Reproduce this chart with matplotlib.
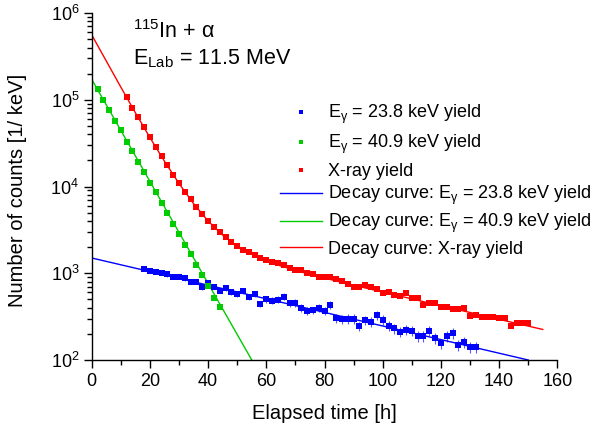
import numpy as np
import matplotlib
matplotlib.use("Agg")
import matplotlib.pyplot as plt
from matplotlib.lines import Line2D
from matplotlib.ticker import MultipleLocator, LogLocator, NullFormatter

plt.rcParams['font.family'] = ['Liberation Sans', 'DejaVu Sans']
plt.rcParams['mathtext.fontset'] = 'custom'
plt.rcParams['mathtext.rm'] = 'Liberation Sans'
plt.rcParams['mathtext.it'] = 'Liberation Sans:italic'
plt.rcParams['mathtext.bf'] = 'Liberation Sans:bold'

# measured yields (time in h, counts per keV)
blue_t = [18, 20, 22, 24, 26, 28, 30, 32, 34, 36, 38, 40, 42, 44, 46, 48, 50, 52, 54, 56,
          58, 60, 62, 64, 66, 68, 70, 72, 74, 76, 78, 80, 82, 84, 86, 88, 90, 92, 94, 96,
          98, 100, 102, 104, 106, 108, 110, 112, 114, 116, 118, 120, 122, 124, 126, 128, 130, 132]
blue_y = [1119, 1071, 1033, 1014, 972, 912, 912, 873, 800, 800, 689, 778, 700, 630, 670, 613, 577, 624, 537, 577,
          443, 505, 483, 495, 537, 451, 459, 400, 368, 374, 400, 370, 436, 303, 294, 299, 299, 247, 289, 276,
          330, 289, 247, 232, 212, 222, 218, 189, 189, 218, 178, 155, 189, 206, 149, 160, 140, 141]
blue_err = [0.05, 0.05, 0.05, 0.05, 0.06, 0.06, 0.06, 0.06, 0.06, 0.06, 0.07, 0.07, 0.07, 0.07, 0.07, 0.08, 0.08, 0.08, 0.08, 0.08,
            0.09, 0.09, 0.09, 0.09, 0.09, 0.10, 0.10, 0.10, 0.10, 0.10, 0.11, 0.11, 0.11, 0.11, 0.11, 0.12, 0.12, 0.12, 0.12, 0.12,
            0.12, 0.13, 0.13, 0.13, 0.13, 0.13, 0.13, 0.14, 0.14, 0.14, 0.14, 0.14, 0.14, 0.15, 0.15, 0.15, 0.15, 0.15]

green_t = [2, 4, 6, 8, 10, 12, 14, 16, 18, 20, 22, 24, 26, 28, 30, 32, 34, 36, 38, 40, 42, 44]
green_y = [132000, 99000, 76500, 57500, 44500, 33000, 25600, 19200, 14800, 11100, 8600,
           6400, 4950, 3700, 2870, 2140, 1660, 1240, 955, 715, 520, 411]
green_err = [0.02, 0.02, 0.02, 0.02, 0.02, 0.02, 0.02, 0.02, 0.02, 0.03, 0.03,
             0.03, 0.03, 0.03, 0.04, 0.04, 0.04, 0.05, 0.05, 0.05, 0.06, 0.06]

red_t = [12, 14, 16, 18, 20, 22, 24, 26, 28, 30, 32, 34, 36, 38, 40, 42, 44, 46, 48, 50,
         52, 54, 56, 58, 60, 62, 64, 66, 68, 70, 72, 74, 76, 78, 80, 82, 84, 86, 88, 90,
         92, 94, 96, 98, 100, 102, 104, 106, 108, 110, 112, 114, 116, 118, 120, 122, 124, 126, 128, 130,
         132, 134, 136, 138, 140, 142, 144, 146, 148, 150]
red_y = [108000, 80500, 62500, 48000, 36800, 28600, 22200, 17600, 13700, 10900, 8750, 7100, 5800, 4820, 4030, 3440, 2960, 2610, 2300, 2080,
         1870, 1740, 1620, 1510, 1430, 1360, 1300, 1240, 1160, 1090, 1100, 1020, 973, 912, 912, 898, 851, 820, 752, 700,
         700, 726, 690, 664, 590, 600, 565, 547, 587, 525, 514, 430, 451, 451, 412, 412, 391, 388, 401, 323,
         330, 316, 310, 310, 308, 303, 247, 265, 270, 265]
red_err = [0.02, 0.02, 0.02, 0.02, 0.02, 0.02, 0.02, 0.02, 0.02, 0.02, 0.02, 0.02, 0.02, 0.02, 0.02, 0.02, 0.02, 0.02, 0.02, 0.02,
           0.02, 0.02, 0.02, 0.02, 0.02, 0.03, 0.03, 0.03, 0.03, 0.03, 0.03, 0.03, 0.03, 0.03, 0.03, 0.03, 0.03, 0.03, 0.03, 0.03,
           0.03, 0.03, 0.03, 0.03, 0.04, 0.04, 0.04, 0.04, 0.04, 0.04, 0.04, 0.04, 0.04, 0.04, 0.04, 0.04, 0.04, 0.04, 0.04, 0.04,
           0.04, 0.04, 0.04, 0.04, 0.04, 0.04, 0.04, 0.04, 0.04, 0.04]

# decay curves
blue_fit_t = [0, 150]
blue_fit_y = [1500, 100]
green_fit_t = [0, 55]
green_fit_y = [172000, 100]
red_fit_t = [0, 5, 10, 15, 20, 25, 30, 35, 40, 45, 50, 55, 60, 65, 70, 75, 80, 85, 90, 95,
             100, 105, 110, 115, 120, 125, 130, 135, 140, 145, 150, 155]
red_fit_y = [560000, 280000, 140000, 71000, 36700, 19570, 10840, 6350, 4000, 2754, 2060, 1652, 1394, 1212, 1079, 971, 880, 801, 728, 665,
             607, 555, 507, 462, 423, 386, 353, 323, 294, 269, 246, 225]

BLUE = '#0000ff'
GREEN = '#00cc00'
RED = '#ff0000'

fig = plt.figure(figsize=(5.92, 4.28), dpi=100)
ax = fig.add_axes([91.7 / 592, 1 - 360 / 428, 465.6 / 592, 347 / 428])

for t, y, e, c in [(blue_t, blue_y, blue_err, BLUE),
                   (green_t, green_y, green_err, GREEN),
                   (red_t, red_y, red_err, RED)]:
    y = np.array(y, dtype=float)
    bars = ax.errorbar(t, y, yerr=y * np.array(e), fmt='s', ms=3.8, mew=0, color=c,
                       ecolor=c, elinewidth=0.8, capsize=2, capthick=0.8, zorder=3)
    for part in bars[1] + bars[2]:
        part.set_alpha(0.65)

ax.plot(blue_fit_t, blue_fit_y, color=BLUE, lw=1.0, zorder=2)
ax.plot(green_fit_t, green_fit_y, color=GREEN, lw=1.0, zorder=2)
ax.plot(red_fit_t, red_fit_y, color=RED, lw=1.0, zorder=2)

ax.set_yscale('log')
ax.set_xlim(0, 160)
ax.set_ylim(100, 1e6)
ax.xaxis.set_major_locator(MultipleLocator(20))
ax.xaxis.set_minor_locator(MultipleLocator(10))
ax.yaxis.set_major_locator(LogLocator(base=10, numticks=10))
ax.yaxis.set_minor_locator(LogLocator(base=10, subs=np.arange(2, 10), numticks=20))
ax.yaxis.set_minor_formatter(NullFormatter())

for s in ['top', 'right']:
    ax.spines[s].set_visible(False)
for s in ['left', 'bottom']:
    ax.spines[s].set_linewidth(1.0)
ax.tick_params(which='major', direction='out', length=6, width=1.0, labelsize=13, pad=3)
ax.tick_params(which='minor', direction='out', length=3.5, width=1.0)

ax.set_xlabel('Elapsed time [h]', fontsize=14.5)
ax.set_ylabel('Number of counts [1/ keV]', fontsize=14.5)
ax.xaxis.set_label_coords(0.5, -0.128)
ax.yaxis.set_label_coords(-0.14, 0.49)

fig.text(132.7 / 592, 1 - 38.3 / 428, r'$^{115}$In + α', fontsize=15.5, va='baseline')
fig.text(132.7 / 592, 1 - 64 / 428, r'E$_{\mathrm{Lab}}$ = 11.5 MeV', fontsize=15.5, va='baseline')

marker_handles = [Line2D([], [], ls='none', marker='s', ms=3, mew=0, color=c) for c in (BLUE, GREEN, RED)]
marker_labels = [r'E$_{\mathrm{γ}}$ = 23.8 keV yield', r'E$_{\mathrm{γ}}$ = 40.9 keV yield', 'X-ray yield']
line_handles = [Line2D([], [], color=c, lw=1.0) for c in (BLUE, GREEN, RED)]
line_labels = [r'Decay curve: E$_{\mathrm{γ}}$ = 23.8 keV yield',
               r'Decay curve: E$_{\mathrm{γ}}$ = 40.9 keV yield',
               'Decay curve: X-ray yield']

leg_kw = dict(bbox_transform=fig.transFigure, loc='upper left', frameon=False, fontsize=13,
              handlelength=2.3, handletextpad=0.35, borderpad=0, borderaxespad=0)
leg1 = ax.legend(marker_handles, marker_labels, bbox_to_anchor=(280 / 592, 1 - 103 / 428),
                 labelspacing=0.38, **leg_kw)
ax.add_artist(leg1)
ax.legend(line_handles, line_labels, bbox_to_anchor=(280 / 592, 1 - 184 / 428),
          labelspacing=0.28, **leg_kw)

fig.savefig('out.png', dpi=100)
